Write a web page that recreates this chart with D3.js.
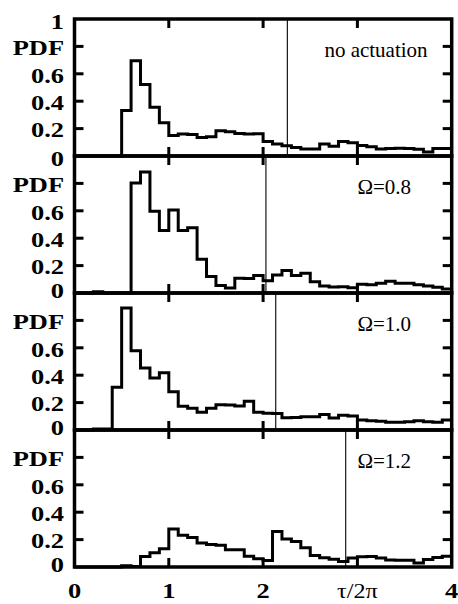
<!DOCTYPE html>
<html><head><meta charset="utf-8">
<script src="https://cdn.jsdelivr.net/npm/d3@7"></script>
<style>body{margin:0;background:#fff}svg{display:block}</style>
</head><body><svg id="c" width="458" height="604"></svg>
<script>
// bin edges in tau/2pi (41 edges -> 40 bins)
const binEdges = [0,0.1,0.2,0.3,0.4,0.5,0.6,0.7,0.8,0.9,1.0,1.1,1.2,1.3,1.4,1.5,1.6,1.7,1.8,1.9,2.0,
  2.1,2.2,2.3,2.4,2.5,2.6,2.7,2.8,2.9,3.0,3.1,3.2,3.3,3.4,3.5,3.6,3.7,3.8,3.9,4.0];

const pdfNoActuation = [0,0,0,0,0,0.333,0.695,0.521,0.355,0.243,0.150,0.160,0.157,0.135,0.140,0.184,0.177,0.165,0.160,0.162,
  0.106,0.087,0.074,0.062,0.052,0.052,0.087,0.072,0.106,0.096,0.077,0.067,0.052,0.055,0.057,0.055,0.050,0.030,0.055,0.055];
const pdfOmega08 = [0,0,0.01,0,0,0,0.803,0.884,0.596,0.457,0.606,0.457,0.476,0.247,0.120,0.054,0.037,0.107,0.105,0.127,
  0.090,0.132,0.164,0.127,0.144,0.083,0.051,0.044,0.046,0.039,0.063,0.061,0.071,0.085,0.071,0.071,0.061,0.051,0.042,0.029];
const pdfOmega10 = [0,0,0.008,0.008,0.312,0.891,0.578,0.453,0.380,0.417,0.280,0.173,0.158,0.129,0.158,0.185,0.183,0.175,0.210,0.129,
  0.122,0.120,0.090,0.092,0.097,0.097,0.114,0.087,0.107,0.102,0.073,0.068,0.063,0.056,0.056,0.061,0.068,0.061,0.056,0.073];
const pdfOmega12 = [0,0,0,0,0,0.010,0.004,0.077,0.104,0.133,0.277,0.231,0.216,0.175,0.165,0.158,0.126,0.126,0.079,0.060,
  0.048,0.260,0.204,0.187,0.140,0.084,0.067,0.057,0.040,0.065,0.074,0.077,0.065,0.052,0.050,0.050,0.030,0.055,0.070,0.079];

const panelLabels = ["no actuation", "\u03A9=0.8", "\u03A9=1.0", "\u03A9=1.2"];
const panelLabelX = [2.65, 3.0, 3.0, 3.0];
const meanTau = [2.257, 2.03, 2.134, 2.876];
const yTickValues = [0.2, 0.4, 0.6, 0.8];
const yTickLabels = ["0.2", "0.4", "0.6", "PDF"];
const xTickValues = [0, 1, 2, 3, 4];
const xTickLabels = ["0", "1", "2", "\u03C4/2\u03C0", "4"];
const xInnerTicks = [1, 2, 3];

const series = [pdfNoActuation, pdfOmega08, pdfOmega10, pdfOmega12];

const svg = d3.select("#c");
const x = d3.scaleLinear().domain([0, 4]).range([74.5, 451.7]);
const top0 = 19, panelH = 137;
const font = "'Liberation Serif','Times New Roman',serif";
const tickLen = 9;
const labelSize = 22, labelStretch = 1.2;

function boldLabel(parent, px, py, txt, anchor, weight, stretch) {
  parent.append("text")
    .attr("transform", `translate(${px},${py}) scale(${stretch},1)`)
    .attr("text-anchor", anchor)
    .attr("font-family", font).attr("font-weight", weight).attr("font-size", labelSize)
    .text(txt);
}

series.forEach((vals, i) => {
  const t = top0 + panelH * i;
  const y = d3.scaleLinear().domain([0, 1]).range([t + panelH, t]);
  const g = svg.append("g");

  // histogram step line
  const pts = vals.map((v, k) => [binEdges[k], v]);
  pts.push([binEdges[binEdges.length - 1], vals[vals.length - 1]]);
  const line = d3.line().x(d => x(d[0])).y(d => y(d[1])).curve(d3.curveStepAfter);
  g.append("path").attr("d", line(pts)).attr("fill", "none")
    .attr("stroke", "#000").attr("stroke-width", 3).attr("stroke-linejoin", "miter");

  // mean line
  g.append("line").attr("x1", x(meanTau[i])).attr("x2", x(meanTau[i]))
    .attr("y1", y(0)).attr("y2", y(1)).attr("stroke", "#000").attr("stroke-width", 1.1);

  // ticks (inward) on all sides
  yTickValues.forEach(v => {
    g.append("line").attr("x1", x(0)).attr("x2", x(0) + tickLen).attr("y1", y(v)).attr("y2", y(v))
      .attr("stroke", "#000").attr("stroke-width", 3);
    g.append("line").attr("x1", x(4)).attr("x2", x(4) - tickLen).attr("y1", y(v)).attr("y2", y(v))
      .attr("stroke", "#000").attr("stroke-width", 3);
  });
  xInnerTicks.forEach(v => {
    g.append("line").attr("x1", x(v)).attr("x2", x(v)).attr("y1", y(0)).attr("y2", y(0) - tickLen)
      .attr("stroke", "#000").attr("stroke-width", 3);
    g.append("line").attr("x1", x(v)).attr("x2", x(v)).attr("y1", y(1)).attr("y2", y(1) + tickLen)
      .attr("stroke", "#000").attr("stroke-width", 3);
  });

  // frame
  g.append("rect").attr("x", x(0)).attr("y", y(1)).attr("width", x(4) - x(0)).attr("height", y(0) - y(1))
    .attr("fill", "none").attr("stroke", "#000").attr("stroke-width", 3.5);

  // y labels
  yTickValues.forEach((v, k) => {
    boldLabel(g, 64, y(v) + (v === 0.2 ? 8 : 9), yTickLabels[k], "end", "bold", labelStretch);
  });
  boldLabel(g, 64, y(0) + (i === 0 ? 10 : 5), "0", "end", "bold", labelStretch);
  if (i === 0) boldLabel(g, 64, y(1) + 10, "1", "end", "bold", labelStretch);

  // panel label
  g.append("text").attr("x", x(panelLabelX[i])).attr("y", t + 37.5)
    .attr("font-family", font).attr("font-size", 21).text(panelLabels[i]);
});

// x tick labels
const xb = top0 + panelH * 4;
xTickValues.forEach((v, k) => {
  if (k === 3) boldLabel(svg, x(v), xb + 31, xTickLabels[k], "middle", "normal", 1.1);
  else boldLabel(svg, x(v), xb + 31, xTickLabels[k], "middle", "bold", labelStretch);
});
</script></body></html>
